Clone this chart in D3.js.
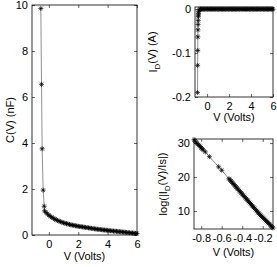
<!DOCTYPE html>
<html>
<head>
<meta charset="utf-8">
<script src="https://cdn.jsdelivr.net/npm/d3@7"></script>
<style>
body{margin:0;background:#fff}
svg{display:block;font-family:"Liberation Sans",Arial,sans-serif}
</style>
</head>
<body>
<div id="chart"></div>
<script>
// C(V) curve
var capV = [-0.55,-0.5,-0.46,-0.39,-0.32,
  -0.3,-0.2,-0.1,0.0,0.1,0.2,0.3,0.4,0.5,0.6,0.7,0.8,0.9,1.0,1.1,1.2,1.3,1.4,1.5,1.6,1.7,1.8,1.9,2.0,
  2.1,2.2,2.3,2.4,2.5,2.6,2.7,2.8,2.9,3.0,3.1,3.2,3.3,3.4,3.5,3.6,3.7,3.8,3.9,4.0,
  4.1,4.2,4.3,4.4,4.5,4.6,4.7,4.8,4.9,5.0,5.1,5.2,5.3,5.4,5.5,5.6,5.7,5.8,5.9,6.0];
var capC = [9.85,6.55,3.75,1.95,1.25,
  1.05,0.98,0.92,0.86,0.81,0.77,0.73,0.69,0.66,0.63,0.60,0.58,0.55,0.53,0.51,0.49,0.48,0.46,0.44,0.43,0.42,0.40,0.39,0.38,
  0.37,0.36,0.35,0.34,0.33,0.32,0.31,0.30,0.29,0.28,0.27,0.26,0.25,0.245,0.24,0.23,0.22,0.215,0.21,0.20,
  0.19,0.185,0.18,0.17,0.165,0.16,0.15,0.145,0.14,0.13,0.125,0.12,0.11,0.105,0.10,0.09,0.085,0.08,0.07,0.065];

// I_D(V) curve
var curV = [-0.87,-0.86,-0.85,-0.84,-0.83,-0.82,-0.81,-0.80,-0.79,-0.78,-0.76,-0.72,-0.63,-0.60,
  -0.5,-0.4,-0.3,-0.2,-0.1,0.0,0.1,0.2,0.3,0.4,0.5,0.6,0.7,0.8,0.9,1.0,1.1,1.2,1.3,1.4,1.5,1.6,1.7,1.8,1.9,2.0,
  2.1,2.2,2.3,2.4,2.5,2.6,2.7,2.8,2.9,3.0,3.1,3.2,3.3,3.4,3.5,3.6,3.7,3.8,3.9,4.0,
  4.1,4.2,4.3,4.4,4.5,4.6,4.7,4.8,4.9,5.0,5.1,5.2,5.3,5.4,5.5,5.6,5.7,5.8,5.9,6.0];
var curI = [-0.190,-0.128,-0.094,-0.063,-0.047,-0.035,-0.026,-0.017,-0.013,-0.0095,-0.005,-0.0013,-0.0002,-0.0001,
  0,0,0,0,0,0,0,0,0,0,0,0,0,0,0,0,0,0,0,0,0,0,0,0,0,0,
  0,0,0,0,0,0,0,0,0,0,0,0,0,0,0,0,0,0,0,0,
  0,0,0,0,0,0,0,0,0,0,0,0,0,0,0,0,0,0,0,0];

// log(|I_D/Is|) curve
var logV = [-0.87,-0.86,-0.85,-0.84,-0.83,-0.82,-0.81,-0.80,-0.79,-0.78,-0.76,-0.72,-0.63,-0.60,
  -0.53,-0.52,-0.51,-0.50,-0.49,-0.48,-0.47,-0.46,-0.45,-0.44,-0.43,-0.42,-0.41,-0.40,-0.39,-0.38,-0.37,-0.36,
  -0.35,-0.34,-0.33,-0.32,-0.31,-0.30,-0.29,-0.28,-0.27,-0.26,-0.25,-0.24,-0.23,-0.22,-0.21,-0.20,
  -0.19,-0.18,-0.17,-0.16,-0.15,-0.14,-0.13,-0.12,-0.11,-0.10];
var logI = [31.0,30.6,30.3,29.9,29.6,29.3,29.0,28.6,28.3,28.0,27.4,26.0,23.0,22.0,
  19.5,19.2,18.8,18.5,18.1,17.8,17.4,17.1,16.7,16.4,16.0,15.7,15.3,15.0,14.6,14.3,13.9,13.6,
  13.2,12.9,12.5,12.2,11.8,11.5,11.1,10.8,10.4,10.1,9.7,9.4,9.0,8.7,8.4,8.1,
  7.8,7.5,7.2,6.9,6.6,6.3,6.0,5.6,5.3,5.0];

var capXTicks = [0,2,4,6], capYTicks = [0,2,4,6,8,10];
var curXTicks = [0,2,4,6], curYTicks = [-0.2,-0.1,0];
var logXTicks = [-0.8,-0.6,-0.4,-0.2], logYTicks = [10,20,30];

var W = 277, H = 267;
var svg = d3.select('#chart').append('svg').attr('width', W).attr('height', H);

// plain hyphen for negatives, like the original figure
var dec1 = d => d === 0 ? '0' : d3.format('.1f')(d).replace('\u2212','-');

function star(s){
    var d = s*0.72;
    return 'M'+(-s)+',0H'+s+'M0,'+(-s)+'V'+s+
        'M'+(-d)+','+(-d)+'L'+d+','+d+'M'+(-d)+','+d+'L'+d+','+(-d);
}

function panel(cfg){
    var x = d3.scaleLinear().domain(cfg.xDom).range([cfg.l, cfg.r]);
    var y = d3.scaleLinear().domain(cfg.yDom).range([cfg.b, cfg.t]);
    var g = svg.append('g');
    var tk = 3;

    var fmtX = cfg.fmtX || (d => d3.format('')(d));
    var fmtY = cfg.fmtY || (d => d3.format('')(d));

    var ax = g.append('g').attr('transform','translate(0,'+cfg.b+')')
        .call(d3.axisBottom(x).tickValues(cfg.xTicks).tickSize(-tk).tickSizeOuter(0).tickPadding(5).tickFormat(fmtX));
    var axT = g.append('g').attr('transform','translate(0,'+cfg.t+')')
        .call(d3.axisTop(x).tickValues(cfg.xTicks).tickSize(-tk).tickSizeOuter(0).tickFormat(''));
    var ay = g.append('g').attr('transform','translate('+cfg.l+',0)')
        .call(d3.axisLeft(y).tickValues(cfg.yTicks).tickSize(-tk).tickSizeOuter(0).tickPadding(4).tickFormat(fmtY));
    var ayR = g.append('g').attr('transform','translate('+cfg.r+',0)')
        .call(d3.axisRight(y).tickValues(cfg.yTicks).tickSize(-tk).tickSizeOuter(0).tickFormat(''));
    [ax,axT,ay,ayR].forEach(function(a){
        a.select('.domain').remove();
        a.selectAll('line').attr('stroke','#000').attr('stroke-width',0.6);
        a.selectAll('text').attr('fill','#000').style('font-size','11px').style('font-family','"Liberation Sans",Arial,sans-serif');
    });

    g.append('rect').attr('x',cfg.l).attr('y',cfg.t)
        .attr('width',cfg.r-cfg.l).attr('height',cfg.b-cfg.t)
        .attr('fill','none').attr('stroke','#000').attr('stroke-width',0.8);

    var pts = cfg.xs.map((v,i)=>[v,cfg.ys[i]]);
    g.append('path').datum(pts)
        .attr('fill','none').attr('stroke','#444').attr('stroke-width',0.6)
        .attr('d', d3.line().x(d=>x(d[0])).y(d=>y(d[1])));
    g.append('g').selectAll('path').data(pts).enter().append('path')
        .attr('transform', d=>'translate('+x(d[0])+','+y(d[1])+')')
        .attr('d', star(2.5)).attr('stroke','#000').attr('stroke-width',0.7).attr('fill','none');

    g.append('text').attr('x',(cfg.l+cfg.r)/2).attr('y',cfg.xlabY)
        .attr('text-anchor','middle').style('font-size','11px').text('V (Volts)');

    var yl = g.append('text')
        .attr('transform','translate('+cfg.ylabX+','+((cfg.t+cfg.b)/2)+') rotate(-90)')
        .attr('text-anchor','middle').style('font-size','11px');
    cfg.ylab.forEach(function(p){
        var ts = yl.append('tspan').text(p.t);
        if(p.sub) ts.attr('dy','0.35em').style('font-size','8px');
        if(p.after) ts.attr('dy','-0.35em');
    });
}

panel({l:32, r:137, t:5, b:235, xDom:[-1.15,6], yDom:[0,10],
    xTicks:capXTicks, yTicks:capYTicks, xs:capV, ys:capC,
    xlabY:260, ylabX:14, ylab:[{t:'C(V) (nF)'}]});

panel({l:195, r:273, t:7, b:97, xDom:[-1.1,6], yDom:[-0.2,0.005],
    xTicks:curXTicks, yTicks:curYTicks, xs:curV, ys:curI,
    fmtY: dec1,
    xlabY:121, ylabX:157, ylab:[{t:'I'},{t:'D',sub:true},{t:'(V) (A)',after:true}]});

panel({l:194, r:273, t:139, b:229, xDom:[-0.87,-0.1], yDom:[4.7,31.2],
    xTicks:logXTicks, yTicks:logYTicks, xs:logV, ys:logI,
    fmtX: dec1,
    xlabY:256, ylabX:167, ylab:[{t:'log(|I'},{t:'D',sub:true},{t:'(V)/Is|)',after:true}]});
</script>
</body>
</html>
